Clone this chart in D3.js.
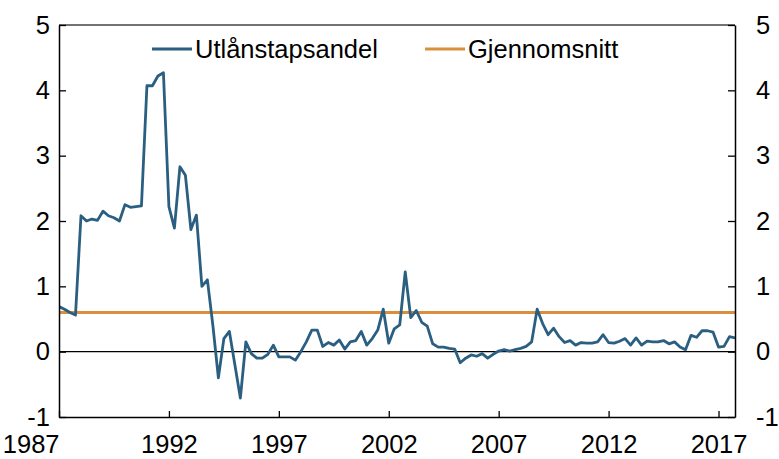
<!DOCTYPE html>
<html>
<head>
<meta charset="utf-8">
<script src="https://cdn.jsdelivr.net/npm/d3@7"></script>
<style>
  html, body { margin: 0; padding: 0; background: #fff; }
  svg text { font-family: "Liberation Sans", Arial, sans-serif; fill: #000; }
</style>
</head>
<body>
<svg id="chart" width="779" height="459"></svg>
<script>
// Quarterly series, first value = 1987 Q1
const startYear = 1987;
const lossShare = [
  0.69, 0.65, 0.60, 0.56,
  2.08, 2.00, 2.03, 2.01,
  2.15, 2.08, 2.05, 2.00,
  2.25, 2.21, 2.22, 2.23,
  4.07, 4.07, 4.22, 4.27,
  2.22, 1.89, 2.83, 2.70,
  1.87, 2.09, 1.00, 1.10,
  0.40, -0.40, 0.20, 0.31,
  -0.20, -0.71, 0.15, -0.03,
  -0.10, -0.10, -0.04, 0.10,
  -0.08, -0.08, -0.08, -0.13,
  0.00, 0.15, 0.33, 0.33,
  0.08, 0.14, 0.10, 0.18,
  0.04, 0.15, 0.17, 0.31,
  0.10, 0.20, 0.33, 0.65,
  0.13, 0.35, 0.41, 1.22,
  0.52, 0.63, 0.45, 0.39,
  0.12, 0.07, 0.07, 0.05,
  0.04, -0.17, -0.10, -0.05,
  -0.07, -0.03, -0.10, -0.04,
  0.01, 0.03, 0.01, 0.03,
  0.05, 0.08, 0.15, 0.65,
  0.43, 0.26, 0.36, 0.23,
  0.14, 0.17, 0.10, 0.14,
  0.13, 0.13, 0.15, 0.26,
  0.14, 0.13, 0.16, 0.20,
  0.10, 0.21, 0.10, 0.16,
  0.15, 0.15, 0.17, 0.12,
  0.15, 0.07, 0.03, 0.25,
  0.22, 0.32, 0.32, 0.30,
  0.07, 0.08, 0.23, 0.21
];
const average = 0.60;
const xTickYears = [1987, 1992, 1997, 2002, 2007, 2012, 2017];
const yTicks = [-1, 0, 1, 2, 3, 4, 5];
const seriesNames = ["Utlånstapsandel", "Gjennomsnitt"];
const colors = ["#2a5f82", "#d8903f"];

const data = lossShare.map((v, i) => ({ t: startYear + i / 4, v }));

const svg = d3.select("#chart");
const mLeft = 59, mRight = 735, mTop = 25, mBottom = 417;
const fontSize = 25.5;

const x = d3.scaleLinear().domain([startYear, startYear + (lossShare.length - 1) / 4]).range([mLeft, mRight]);
const y = d3.scaleLinear().domain([-1, 5]).range([mBottom, mTop]);

svg.append("defs").append("clipPath").attr("id", "clip")
  .append("rect").attr("x", mLeft).attr("y", mTop).attr("width", mRight - mLeft).attr("height", mBottom - mTop);

// zero line
svg.append("line")
  .attr("x1", mLeft).attr("x2", mRight)
  .attr("y1", y(0)).attr("y2", y(0))
  .attr("stroke", "#000").attr("stroke-width", 1.3);

// average line
svg.append("line")
  .attr("x1", mLeft).attr("x2", mRight)
  .attr("y1", y(average)).attr("y2", y(average))
  .attr("stroke", colors[1]).attr("stroke-width", 3);

// series
svg.append("path")
  .datum(data)
  .attr("clip-path", "url(#clip)")
  .attr("fill", "none")
  .attr("stroke", colors[0])
  .attr("stroke-width", 2.8)
  .attr("stroke-linejoin", "round")
  .attr("d", d3.line().x(d => x(d.t)).y(d => y(d.v)));

// frame top
svg.append("line").attr("x1", mLeft).attr("x2", mRight).attr("y1", mTop).attr("y2", mTop)
  .attr("stroke", "#444").attr("stroke-width", 1.5);

// axes
const fmt = d => d3.format("d")(d).replace("\u2212", "-");
const yLeft = d3.axisLeft(y).tickValues(yTicks).tickSizeInner(-7).tickSizeOuter(0).tickPadding(9).tickFormat(fmt);
const yRight = d3.axisRight(y).tickValues(yTicks).tickSizeInner(-7).tickSizeOuter(0).tickPadding(21).tickFormat(fmt);
const xAxis = d3.axisBottom(x).tickValues(xTickYears).tickSizeInner(-6).tickSizeOuter(0).tickPadding(18).tickFormat(d3.format("d"));

function style(g) {
  g.select(".domain").attr("stroke", "#000").attr("stroke-width", 1.5);
  g.selectAll(".tick line").attr("stroke", "#000").attr("stroke-width", 1.3);
  g.selectAll("text").attr("font-size", fontSize).attr("font-family", "Liberation Sans, Arial, sans-serif");
}

svg.append("g").attr("transform", `translate(${mLeft},0)`).call(yLeft).call(style);
svg.append("g").attr("transform", `translate(${mRight},0)`).call(yRight).call(style);
const gx = svg.append("g").attr("transform", `translate(0,${mBottom})`).call(xAxis).call(style);
gx.selectAll(".tick text").filter(d => d === xTickYears[0]).attr("text-anchor", "end");

// legend
const legend = svg.append("g");
const items = [
  { name: seriesNames[0], color: colors[0], x0: 152 },
  { name: seriesNames[1], color: colors[1], x0: 425 }
];
items.forEach(it => {
  legend.append("line").attr("x1", it.x0).attr("x2", it.x0 + 40).attr("y1", 49).attr("y2", 49)
    .attr("stroke", it.color).attr("stroke-width", 2.8);
  legend.append("text").attr("x", it.x0 + 43).attr("y", 58).attr("font-size", fontSize).text(it.name);
});
</script>
</body>
</html>
